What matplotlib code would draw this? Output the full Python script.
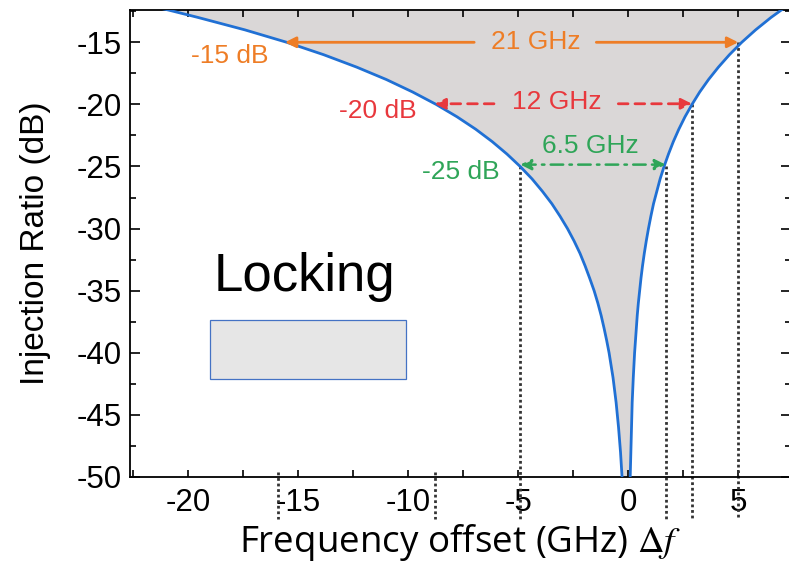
import matplotlib
matplotlib.use("Agg")
import matplotlib.pyplot as plt
from matplotlib.patches import Rectangle
from matplotlib.ticker import MultipleLocator

# ---- data ----
ratio_db = [-12.0, -12.4, -13, -14, -15, -16, -17, -18, -19, -20, -21, -22, -23, -24,
            -25, -26, -27, -28, -29, -30, -31, -32, -33, -34, -35, -36, -37, -38,
            -39, -40, -42, -44, -46, -48, -50]
f_low = [-21.9, -20.9, -19.55, -17.42, -15.52, -13.84, -12.34, -10.99, -9.80, -8.73,
         -7.78, -6.93, -6.18, -5.51, -4.91, -4.37, -3.90, -3.47, -3.10, -2.76, -2.46,
         -2.19, -1.96, -1.75, -1.55, -1.38, -1.23, -1.10, -0.98, -0.87, -0.69, -0.55,
         -0.44, -0.35, -0.28]
f_high = [7.28, 6.96, 6.49, 5.79, 5.16, 4.60, 4.10, 3.65, 3.25, 2.90, 2.58, 2.30, 2.05,
          1.83, 1.63, 1.45, 1.30, 1.15, 1.03, 0.92, 0.82, 0.73, 0.65, 0.58, 0.52, 0.46,
          0.41, 0.37, 0.33, 0.29, 0.23, 0.18, 0.15, 0.12, 0.09]

levels_db = [-15, -20, -25]
level_labels = ["-15 dB", "-20 dB", "-25 dB"]
range_labels = ["21 GHz", "12 GHz", "6.5 GHz"]
range_low = [-15.6, -8.8, -4.9]
range_high = [5.0, 2.9, 1.7]

# full dotted drop lines (x, level where they start)
drop_x = [-4.9, 1.7, 2.9, 5.0]
drop_top = [-25, -25, -20, -15]
# short dotted stubs below the axis
stub_x = [-15.9, -8.8]

xticks = [-20, -15, -10, -5, 0, 5]
yticks = [-15, -20, -25, -30, -35, -40, -45, -50]

ORANGE = "#EE7D26"
RED = "#E8383D"
GREEN = "#2FA558"
BLUE = "#2070D4"
FILL = "#DAD7D7"
DOT = "#333333"

plt.rcParams["mathtext.fontset"] = "stix"

fig = plt.figure(figsize=(7.89, 5.65), dpi=100)
ax = fig.add_axes([0.1648, 0.1558, 0.8378, 0.8265])

ax.fill_betweenx(ratio_db, f_low, f_high, color=FILL, lw=0, zorder=1)
ax.plot(f_low, ratio_db, color=BLUE, lw=2, zorder=3)
ax.plot(f_high, ratio_db, color=BLUE, lw=2, zorder=3)

ax.set_xlim(-22.64, 7.4)
ax.set_ylim(-50, -12.4)

# dotted drop lines
y_bottom = -53.4
dot_style = dict(ls=(0, (1, 1)), color=DOT, lw=2.0, clip_on=False, zorder=2)
for xv, top in zip(drop_x, drop_top):
    ax.plot([xv, xv], [top, y_bottom], **dot_style)
for xv in stub_x:
    ax.plot([xv, xv], [-49.6, y_bottom], **dot_style)

tfont = dict(family="Liberation Sans", fontsize=19)

def double_arrow(y, x0, x1, gap0, gap1, color, ls):
    props = dict(arrowstyle="-|>", color=color, lw=2, linestyle=ls,
                 mutation_scale=16, shrinkA=0, shrinkB=0)
    ax.annotate("", xy=(x0, y), xytext=(gap0, y), arrowprops=props, zorder=4)
    ax.annotate("", xy=(x1, y), xytext=(gap1, y), arrowprops=props, zorder=4)

# -15 dB / 21 GHz
double_arrow(-15.0, range_low[0], range_high[0], -7.0, -1.45, ORANGE, "-")
ax.text(-4.2, -15.0, range_labels[0], color=ORANGE, ha="center", va="center", **tfont)
ax.text(-18.1, -16.1, level_labels[0], color=ORANGE, ha="center", va="center", **tfont)

# -20 dB / 12 GHz
double_arrow(-19.95, range_low[1], range_high[1], -6.1, -0.45, RED, (0, (3.5, 2.5)))
ax.text(-3.25, -19.8, range_labels[1], color=RED, ha="center", va="center", **tfont)
ax.text(-11.4, -20.55, level_labels[1], color=RED, ha="center", va="center", **tfont)

# -25 dB / 6.5 GHz
props_g = dict(arrowstyle="<|-|>", color=GREEN, lw=1.8, linestyle=(0, (5, 2.5, 1, 2.5)),
               mutation_scale=16, shrinkA=0, shrinkB=0)
ax.annotate("", xy=(range_high[2], -24.85), xytext=(range_low[2], -24.85),
            arrowprops=props_g, zorder=4)
ax.text(-1.7, -23.35, range_labels[2], color=GREEN, ha="center", va="center", **tfont)
ax.text(-7.6, -25.45, level_labels[2], color=GREEN, ha="center", va="center", **tfont)

# legend-like box
ax.add_patch(Rectangle((-19.0, -42.1), 8.9, 4.7, facecolor="#E6E6E6",
                       edgecolor="#4472C4", lw=0.9, zorder=2))
ax.text(-14.7, -33.9, "Locking", ha="center", va="center",
        family="Liberation Sans", fontsize=38, color="black")

# axes style
ax.set_xticks(xticks)
ax.set_yticks(yticks)
ax.xaxis.set_minor_locator(MultipleLocator(2.5))
ax.yaxis.set_minor_locator(MultipleLocator(2.5))
ax.tick_params(axis="both", which="both", direction="in", top=True, right=True,
               width=1.2, colors="black")
ax.tick_params(axis="x", which="both", length=5, pad=8)
ax.tick_params(axis="y", which="major", length=7, pad=6)
ax.tick_params(axis="y", which="minor", length=4)
ax.set_xticklabels([str(t) for t in xticks])
ax.set_yticklabels([str(t) for t in yticks])
for lab in ax.get_xticklabels() + ax.get_yticklabels():
    lab.set_family("Liberation Sans")
    lab.set_fontsize(22.5)
for sp in ax.spines.values():
    sp.set_linewidth(1.3)

ax.set_ylabel("Injection Ratio (dB)", family="Liberation Sans", fontsize=24, labelpad=18)
ax.set_xlabel(r"Frequency offset (GHz) $\Delta f$", family="Open Sans", fontsize=26.5,
              labelpad=3)

fig.savefig("out.png", dpi=100)
